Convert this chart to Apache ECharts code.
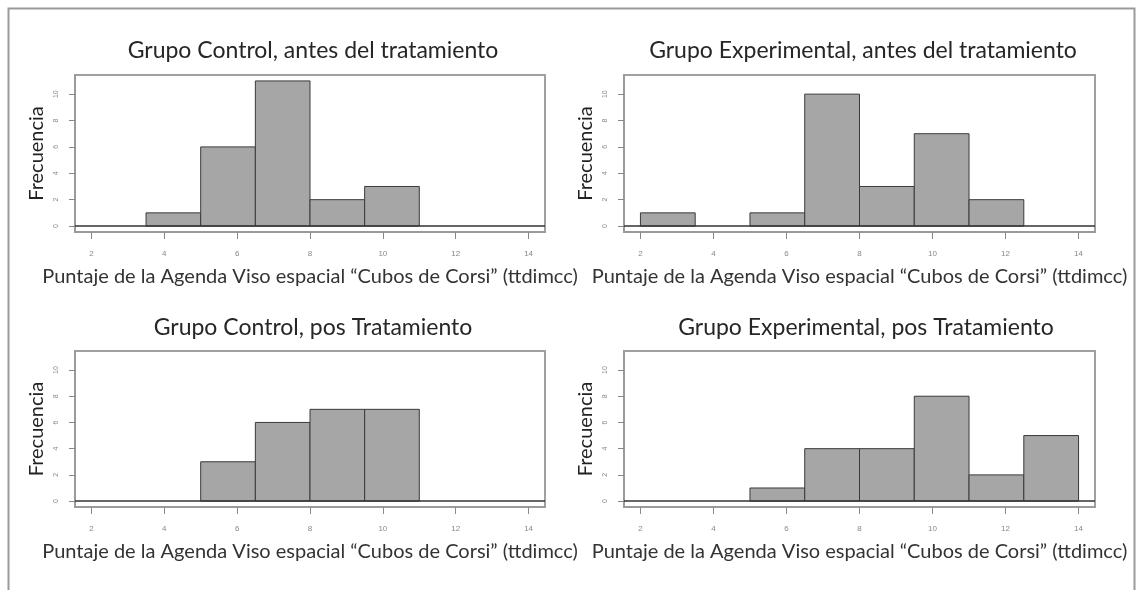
<!DOCTYPE html>
<html>
<head>
<meta charset="utf-8">
<script src="https://cdn.jsdelivr.net/npm/echarts@6/dist/echarts.min.js"></script>
<style>
html,body{margin:0;padding:0;background:#fff;}
#c{width:1136px;height:590px;}
</style>
</head>
<body>
<div id="c"></div>
<script>
// Data
const binEdges = [2, 3.5, 5, 6.5, 8, 9.5, 11, 12.5, 14];
const panelTitles = [
  'Grupo Control, antes del tratamiento',
  'Grupo Experimental, antes del tratamiento',
  'Grupo Control, pos Tratamiento',
  'Grupo Experimental, pos Tratamiento'
];
const countsControlAntes = [0, 1, 6, 11, 2, 3, 0, 0];
const countsExpAntes     = [1, 0, 1, 10, 3, 7, 2, 0];
const countsControlPos   = [0, 0, 3, 6, 7, 7, 0, 0];
const countsExpPos       = [0, 0, 1, 4, 4, 8, 2, 5];
const xTicks = [2, 4, 6, 8, 10, 12, 14];
const yTicks = [0, 2, 4, 6, 8, 10];
const xAxisTitle = 'Puntaje de la Agenda Viso espacial \u201CCubos de Corsi\u201D (ttdimcc)';
const yAxisTitle = 'Frecuencia';

const allCounts = [countsControlAntes, countsExpAntes, countsControlPos, countsExpPos];

const grids = [
  {left: 75, top: 75, width: 470, height: 157},
  {left: 624, top: 75, width: 471, height: 157},
  {left: 75, top: 351, width: 470, height: 156},
  {left: 624, top: 351, width: 471, height: 156}
];
const titlePos = [
  {x: 308, y: 34},
  {x: 858, y: 34},
  {x: 308, y: 311},
  {x: 861, y: 311}
];

const chart = echarts.init(document.getElementById('c'), null, {renderer: 'canvas'});

function binData(counts) {
  return counts.map((c, i) => [binEdges[i], binEdges[i + 1], c]);
}

const option = {
  backgroundColor: '#fff',
  animation: false,
  title: panelTitles.map((t, i) => ({
    text: t,
    left: titlePos[i].x,
    top: titlePos[i].y,
    textAlign: 'center',
    textStyle: {fontFamily: 'Lato', fontSize: 23, fontWeight: 'normal', color: '#262626'}
  })),
  grid: grids.map(g => Object.assign({show: true, borderColor: '#a0a0a0', borderWidth: 2, backgroundColor: '#fff'}, g)),
  xAxis: grids.map((g, i) => ({
    type: 'value',
    gridIndex: i,
    min: 1.55,
    max: 14.45,
    interval: 2,
    splitLine: {show: false},
    axisLine: {show: true, onZero: false, lineStyle: {color: '#9a9a9a', width: 2}},
    axisTick: {show: true, length: 7, lineStyle: {color: '#888'},
      customValues: xTicks},
    axisLabel: {show: true, color: '#888', fontSize: 8, margin: 18,
      customValues: xTicks, showMinLabel: true, showMaxLabel: true},
    name: xAxisTitle,
    nameLocation: 'middle',
    nameGap: 35,
    nameTextStyle: {fontFamily: 'Lato', fontSize: 20, color: '#333'}
  })),
  yAxis: grids.map((g, i) => ({
    type: 'value',
    gridIndex: i,
    min: -0.45,
    max: 11.45,
    splitLine: {show: false},
    axisLine: {show: true, onZero: false, lineStyle: {color: '#9a9a9a', width: 2}},
    axisTick: {show: true, length: 6, lineStyle: {color: '#888'}, customValues: yTicks},
    axisLabel: {show: true, color: '#888', fontSize: 7, rotate: 90, margin: 15, customValues: yTicks},
    name: yAxisTitle,
    nameLocation: 'middle',
    nameRotate: 90,
    nameGap: 28,
    nameTextStyle: {fontFamily: 'Lato', fontSize: 20, color: '#222'}
  })),
  series: allCounts.map((counts, i) => ({
    type: 'custom',
    xAxisIndex: i,
    yAxisIndex: i,
    data: binData(counts),
    renderItem: function (params, api) {
      const c = api.value(2);
      if (!c) return null;
      const p0 = api.coord([api.value(0), 0]);
      const p1 = api.coord([api.value(1), c]);
      return {
        type: 'rect',
        shape: {x: p0[0], y: p1[1], width: p1[0] - p0[0], height: p0[1] - p1[1]},
        style: {fill: '#a6a6a6', stroke: '#3a3a3a', lineWidth: 1}
      };
    },
    markLine: {
      silent: true,
      symbol: 'none',
      label: {show: false},
      lineStyle: {color: '#333', width: 1.5, type: 'solid'},
      data: [{yAxis: 0}]
    }
  })),
  graphic: [
    {type: 'rect', left: 6, top: 6, shape: {width: 1126, height: 600}, style: {fill: 'none', stroke: '#9a9a9a', lineWidth: 2}, silent: true}
  ]
};
chart.setOption(option);
</script>
</body>
</html>
